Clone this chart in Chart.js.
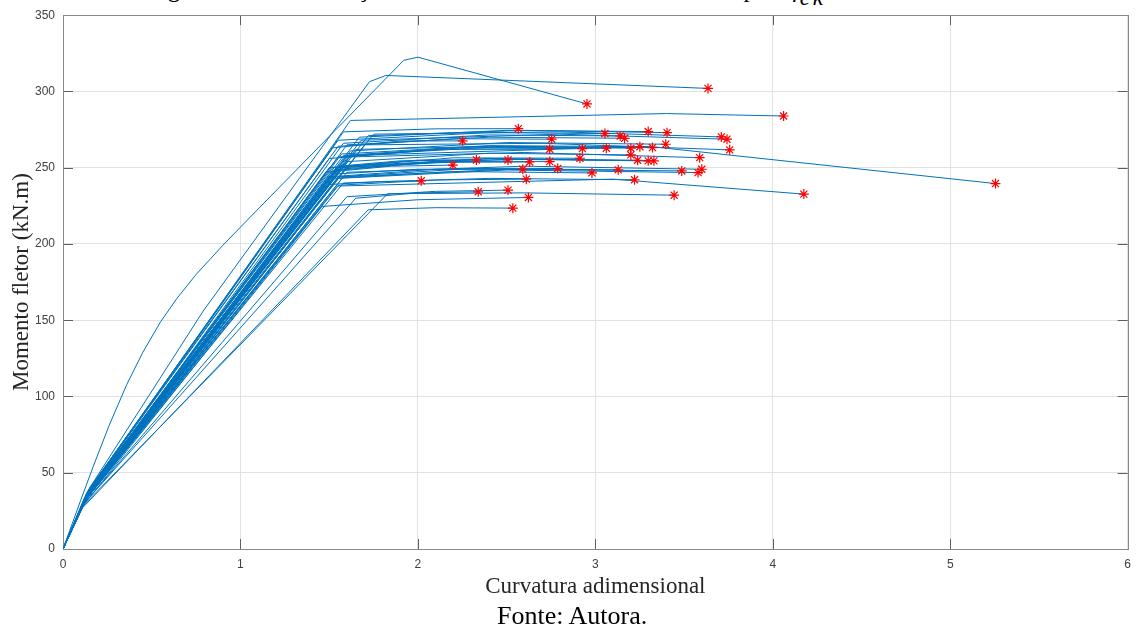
<!DOCTYPE html>
<html>
<head>
<meta charset="utf-8">
<script src="https://cdn.jsdelivr.net/npm/chart.js@4.4.1/dist/chart.umd.min.js"></script>
<style>
  body { margin: 0; background: #fff; }
  #wrap { position: relative; width: 1139px; height: 632px; overflow: hidden; }
  #chart { position: absolute; left: 0; top: 0; }
  .caption { position: absolute; white-space: nowrap; font-family: "Liberation Serif", "Times New Roman", serif; color: #000; }
  #topCaption { left: 147px; top: -24px; font-size: 25px; line-height: 25px; }
  #topCaption .sub { position: relative; top: 8px; font-size: 23px; font-style: italic; letter-spacing: 3px; }
  #fonte { left: 497px; top: 603px; font-size: 26px; line-height: 26px; }
</style>
</head>
<body>
<div id="wrap">
  <div id="topCaption" class="caption">Figura 5.13 – As relações momento-curvatura dos modelos para <i>f</i><span class="sub">ck</span></div>
  <canvas id="chart" width="1139" height="632"></canvas>
  <div id="fonte" class="caption">Fonte: Autora.</div>
</div>
<script>
// pontos de cada curva momento-curvatura
const crackX = [0.13,0.14,0.13,0.12,0.14,0.13,0.12,0.14,0.13,0.15,0.14,0.13,0.14,0.12,0.14,0.13,0.14,0.15,0.12,0.13,0.12,0.14,0.15,0.14,0.13,0.12,0.13,0.14,0.15,0.14,0.13,0.14,0.12,0.13,0.12,0.12,0.13,0.14,0.12,0.15,0.12,0.12,0.12,0.12,0.11,0.11,0.11];
const crackM = [36,38,35,33,37,34,32,36,34,39,38,35,36,32,37,33,35,40,31,34,32,37,39,37,34,31,33,36,38,37,35,36,31,34,32,31,34,35,31,38,32,30,30,31,28,28,27];
const yieldX = [1.62,1.58,1.67,1.72,1.55,1.58,1.75,1.60,1.68,1.55,1.52,1.62,1.57,1.60,1.55,1.65,1.58,1.50,1.70,1.60,1.60,1.52,1.55,1.50,1.55,1.60,1.57,1.52,1.55,1.48,1.50,1.55,1.60,1.55,1.58,1.55,1.52,1.55,1.58,1.50,1.62,1.65,1.60,1.55,1.46,1.83,1.72];
const yieldM = [281,273.5,270,271,268,266,272,265,268,264,263,261,259,258,257,262,258,256,265,254,257,250,251,250,250,251,250,248,249,247,244,246,247,244,244,243,243,238.5,240,239,258,230,231,238,224.6,233,222.4];
const midX = [3.40,2.10,2.50,2.60,2.40,2.40,2.80,2.40,2.80,2.20,1.90,2.50,2.40,2.50,2.30,2.40,2.20,2.10,2.70,2.40,2.60,2.20,1.90,2.00,2.40,2.40,2.50,2.10,2.10,1.85,2.10,2.00,2.60,2.30,2.50,2.50,2.20,2.10,2.40,1.80,3.30,2.00,2.10,3.10,2.00,2.60,2.10];
const midM = [285.5,275.5,274.5,274.5,273,271.5,273.5,270,272,269,267.5,266.5,264.5,264,263.5,264,263,262,266,259.5,260,256.5,254.5,255,256,256,255.5,254,253.5,251,249,249,251,249.5,249,248.5,247.5,242,243,241,264,233.5,234.5,242.5,229,233.5,223.8];
const endX = [4.061,2.566,3.298,3.404,3.054,3.140,3.710,3.165,3.742,2.754,2.252,3.397,3.251,3.322,3.062,3.200,2.927,2.743,3.757,3.200,3.588,2.913,2.330,2.508,3.238,3.298,3.330,2.743,2.630,2.197,2.788,2.591,3.600,3.129,3.487,3.579,2.981,2.611,3.221,2.019,5.255,2.340,2.508,4.175,2.623,3.444,2.535];
const endM = [283.9,275.6,273.7,273.0,272.4,270.8,270.2,269.3,268.7,268.7,267.6,265.4,263.8,263.2,262.8,262.8,262.5,262.1,261.7,258.4,256.6,256.2,255.1,255.1,254.9,254.5,254.5,254.0,253.8,251.7,249.5,249.0,249.0,248.6,247.9,246.8,246.6,242.5,242.1,241.4,239.6,234.2,235.3,232.7,230.5,232.0,223.5];

// as duas curvas mais rígidas, com pico
const peakAX = [0, 0.10, 0.17, 0.26, 0.36, 0.45, 0.55, 0.64, 0.75, 0.90, 1.05, 1.92, 2.0, 2.953];
const peakAM = [0, 32, 54, 81, 108, 129, 149, 164, 180, 199, 217, 320.4, 322.5, 291.8];
const peakBX = [0, 0.15, 0.79, 1.727, 1.82, 3.635];
const peakBM = [0, 40, 156, 306.4, 310.5, 302];

const xTicks = [0, 1, 2, 3, 4, 5, 6];
const yTicks = [0, 50, 100, 150, 200, 250, 300, 350];

const blue = '#0072BD';
const lineSets = endX.map((ex, i) => ({
  data: [
    { x: 0, y: 0 },
    { x: crackX[i], y: crackM[i] },
    { x: yieldX[i], y: yieldM[i] },
    { x: midX[i], y: midM[i] },
    { x: ex, y: endM[i] }
  ],
  showLine: true, borderColor: blue, borderWidth: 1, pointRadius: 0, order: 1
}));
[[peakAX, peakAM], [peakBX, peakBM]].forEach(([xs, ms]) => {
  lineSets.push({
    data: xs.map((v, k) => ({ x: v, y: ms[k] })),
    showLine: true, borderColor: blue, borderWidth: 1, pointRadius: 0, order: 1
  });
});

const markerX = endX.concat([peakAX[peakAX.length - 1], peakBX[peakBX.length - 1]]);
const markerM = endM.concat([peakAM[peakAM.length - 1], peakBM[peakBM.length - 1]]);
const markers = {
  data: markerX.map((v, i) => ({ x: v, y: markerM[i] })),
  showLine: false, pointStyle: 'star', pointRadius: 5, borderColor: '#ff0000',
  backgroundColor: '#ff0000', borderWidth: 1.2, order: 0
};

// caixa estilo MATLAB com ticks para dentro
const boxPlugin = {
  id: 'box',
  beforeDatasetsDraw(chart) {
    const { ctx, chartArea: a, scales: { x, y } } = chart;
    ctx.save();
    ctx.lineWidth = 1;
    ctx.strokeStyle = '#5e5e5e';
    ctx.beginPath();
    xTicks.forEach(v => {
      const px = Math.round(x.getPixelForValue(v)) + 0.5;
      ctx.moveTo(px, a.bottom); ctx.lineTo(px, a.bottom - 10);
      ctx.moveTo(px, a.top); ctx.lineTo(px, a.top + 10);
    });
    yTicks.forEach(v => {
      const py = Math.round(y.getPixelForValue(v)) + 0.5;
      ctx.moveTo(a.left, py); ctx.lineTo(a.left + 10, py);
      ctx.moveTo(a.right, py); ctx.lineTo(a.right - 10, py);
    });
    ctx.stroke();
    ctx.strokeStyle = '#8a8a8a';
    ctx.strokeRect(Math.round(a.left) + 0.5, Math.round(a.top) + 0.5,
      Math.round(a.right - a.left), Math.round(a.bottom - a.top));
    ctx.restore();
  }
};

new Chart(document.getElementById('chart'), {
  type: 'scatter',
  data: { datasets: [markers, ...lineSets] },
  options: {
    responsive: false,
    animation: false,
    layout: { padding: { top: 14, right: 9, left: 0, bottom: 0 } },
    plugins: { legend: { display: false }, tooltip: { enabled: false } },
    elements: { line: { tension: 0 } },
    scales: {
      x: {
        type: 'linear', min: 0, max: 6,
        afterFit(s) { s.height = 83; },
        border: { display: false },
        grid: { color: '#e2e2e2', drawTicks: false },
        ticks: { stepSize: 1, padding: 8, color: '#404040', font: { family: 'Liberation Sans', size: 12 } },
        title: {
          display: true, text: 'Curvatura adimensional', color: '#262626',
          font: { family: 'Liberation Serif', size: 23, lineHeight: 1.2 },
          padding: { top: 0, bottom: 31 }
        }
      },
      y: {
        type: 'linear', min: 0, max: 350,
        afterFit(s) { s.width = 63; },
        border: { display: false },
        grid: { color: '#e2e2e2', drawTicks: false },
        ticks: { stepSize: 50, padding: 8, color: '#404040', font: { family: 'Liberation Sans', size: 12 } },
        title: {
          display: true, text: 'Momento fletor (kN.m)', color: '#262626',
          font: { family: 'Liberation Serif', size: 23, lineHeight: 1.2 },
          padding: { top: 8, bottom: 0 }
        }
      }
    }
  },
  plugins: [boxPlugin]
});
</script>
</body>
</html>
